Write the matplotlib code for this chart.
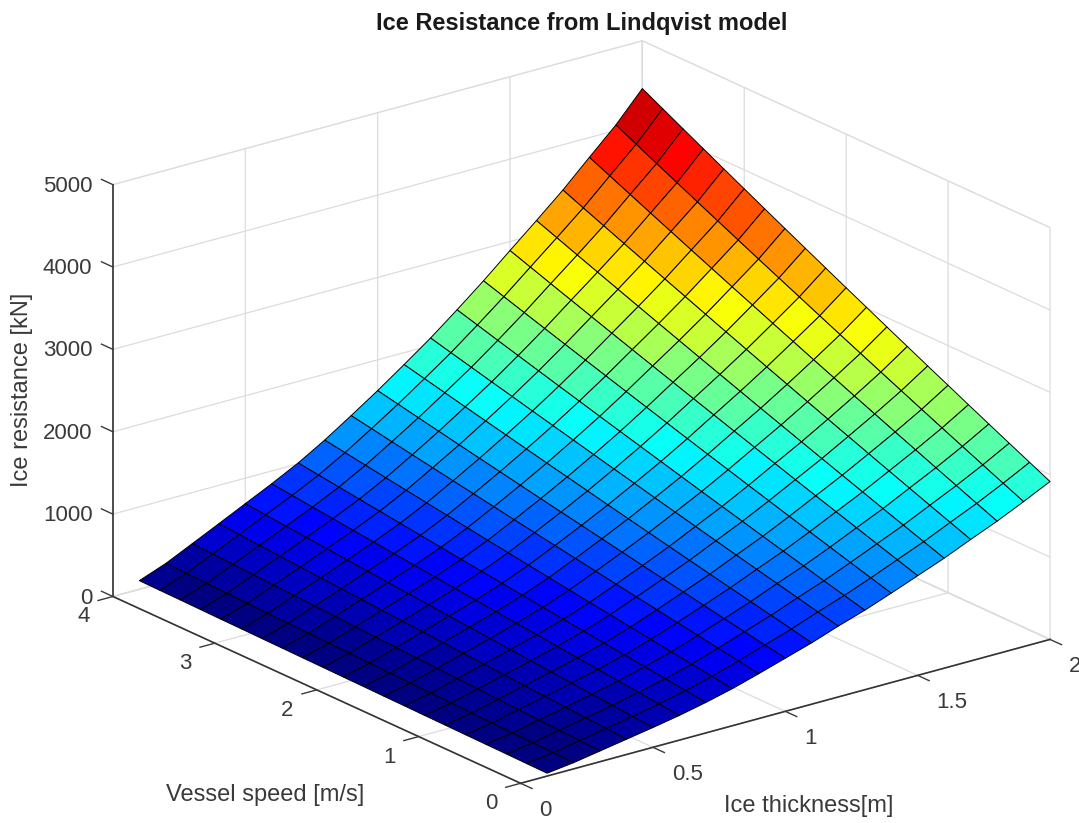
import numpy as np
import matplotlib
matplotlib.use('Agg')
import matplotlib.pyplot as plt
from matplotlib.colors import LinearSegmentedColormap, Normalize

thickness = [0.1, 0.2, 0.3, 0.4, 0.5, 0.6, 0.7, 0.8, 0.9, 1.0,
             1.1, 1.2, 1.3, 1.4, 1.5, 1.6, 1.7, 1.8, 1.9, 2.0]
speed = [0.0, 0.2, 0.4, 0.6, 0.8, 1.0, 1.2, 1.4, 1.6, 1.8, 2.0,
         2.2, 2.4, 2.6, 2.8, 3.0, 3.2, 3.4, 3.6, 3.8, 4.0]

# rows = thickness, cols = speed
resistance = [
    [35, 38, 42, 45, 48, 52, 55, 59, 62, 66, 69, 73, 76, 80, 83, 87, 90, 94, 98, 101, 105],
    [75, 82, 89, 97, 104, 111, 119, 126, 134, 141, 149, 157, 164, 172, 180, 187, 195, 203, 211, 219, 227],
    [130, 142, 154, 166, 178, 190, 202, 214, 227, 239, 252, 264, 277, 289, 302, 315, 328, 341, 354, 367, 380],
    [185, 202, 218, 235, 252, 269, 286, 303, 320, 337, 355, 372, 390, 408, 425, 443, 461, 479, 497, 516, 534],
    [240, 261, 283, 304, 326, 348, 370, 392, 414, 437, 459, 482, 504, 527, 550, 573, 596, 619, 643, 666, 690],
    [300, 326, 352, 378, 404, 431, 457, 484, 511, 538, 565, 593, 620, 648, 675, 703, 731, 760, 788, 816, 845],
    [370, 400, 431, 462, 493, 524, 555, 586, 618, 650, 682, 714, 746, 778, 811, 844, 877, 910, 943, 976, 1010],
    [450, 486, 521, 557, 594, 630, 667, 703, 740, 778, 815, 853, 890, 928, 967, 1005, 1044, 1082, 1121, 1161, 1200],
    [545, 586, 627, 669, 711, 753, 795, 837, 880, 923, 966, 1009, 1053, 1097, 1141, 1185, 1230, 1274, 1319, 1365, 1410],
    [645, 692, 738, 785, 833, 881, 928, 976, 1025, 1074, 1123, 1172, 1221, 1271, 1321, 1371, 1421, 1472, 1523, 1575, 1626],
    [745, 798, 851, 904, 958, 1011, 1066, 1120, 1175, 1230, 1285, 1341, 1397, 1453, 1510, 1567, 1624, 1681, 1739, 1797, 1855],
    [860, 918, 977, 1036, 1096, 1155, 1215, 1276, 1336, 1397, 1459, 1520, 1582, 1645, 1707, 1770, 1834, 1897, 1961, 2025, 2090],
    [965, 1031, 1096, 1163, 1229, 1296, 1364, 1431, 1499, 1568, 1637, 1706, 1775, 1845, 1916, 1986, 2057, 2129, 2200, 2273, 2345],
    [1085, 1157, 1230, 1303, 1377, 1451, 1526, 1600, 1676, 1751, 1827, 1904, 1981, 2058, 2136, 2214, 2292, 2371, 2450, 2530, 2610],
    [1210, 1290, 1370, 1451, 1532, 1613, 1695, 1778, 1861, 1944, 2028, 2112, 2197, 2282, 2367, 2453, 2540, 2627, 2714, 2802, 2890],
    [1335, 1422, 1509, 1597, 1686, 1775, 1864, 1954, 2045, 2135, 2227, 2319, 2411, 2504, 2597, 2691, 2785, 2880, 2975, 3071, 3167],
    [1475, 1569, 1663, 1758, 1853, 1949, 2046, 2142, 2240, 2338, 2436, 2535, 2635, 2735, 2836, 2937, 3038, 3140, 3243, 3346, 3450],
    [1610, 1712, 1815, 1918, 2022, 2126, 2231, 2336, 2443, 2549, 2657, 2764, 2873, 2981, 3091, 3201, 3312, 3423, 3535, 3647, 3760],
    [1760, 1869, 1979, 2090, 2201, 2313, 2426, 2539, 2653, 2767, 2882, 2998, 3114, 3230, 3348, 3466, 3584, 3704, 3823, 3944, 4065],
    [1917, 2036, 2155, 2275, 2396, 2518, 2640, 2763, 2886, 3011, 3135, 3261, 3387, 3514, 3641, 3770, 3898, 4028, 4158, 4289, 4420],
]

x_ticks = [0, 0.5, 1, 1.5, 2]
x_tick_labels = ['0', '0.5', '1', '1.5', '2']
y_ticks = [0, 1, 2, 3, 4]
z_ticks = [0, 1000, 2000, 3000, 4000, 5000]

TEXT = '#3a3a3a'
GRID = '#dcdcdc'

plt.rcParams['font.family'] = ['Liberation Sans', 'DejaVu Sans']

# MATLAB flavour of jet, 64 steps
jet64 = LinearSegmentedColormap.from_list('jet64', [
    (0.0, (0, 0, 0.5)), (0.125, (0, 0, 1)), (0.375, (0, 1, 1)),
    (0.625, (1, 1, 0)), (0.875, (1, 0, 0)), (1.0, (0.5, 0, 0))], N=64)

W, H, S = 1079, 823, 1100
fig = plt.figure(figsize=(W / 100, H / 100), dpi=100)
ax = fig.add_axes([16.6 / W, -153.9 / H, S / W, S / H], projection='3d')
ax.set_proj_type('ortho')
ax.view_init(elev=20.66, azim=-127.6)
ax.set_box_aspect((668, 668, 440), zoom=0.92)

hh, vv = np.meshgrid(thickness, speed, indexing='ij')
zz = np.array(resistance, dtype=float)
# each face takes the colour of one corner (low thickness, high speed), as in the original
face_colors = jet64(Normalize(zz.min(), zz.max())(zz[:, 1:]))
surf = ax.plot_surface(hh, vv, zz, rstride=1, cstride=1, facecolors=face_colors,
                       linewidth=0.7, antialiased=True, shade=False)
surf.set_edgecolor('black')

ax.set_xlim(0, 2, view_margin=0)
ax.set_ylim(0, 4, view_margin=0)
ax.set_zlim(0, 5000, view_margin=0)
ax.set_xticks(x_ticks)
ax.set_xticklabels(x_tick_labels)
ax.set_yticks(y_ticks)
ax.set_zticks(z_ticks)

for axis in (ax.xaxis, ax.yaxis, ax.zaxis):
    axis.pane.fill = False
    axis.pane.set_edgecolor(GRID)
    axis.line.set_color('#333333')
    axis.line.set_linewidth(1.2)
    axis._axinfo['grid'].update(color=GRID, linewidth=0.9)
    axis._axinfo['tick'].update(inward_factor=0.35, outward_factor=0.0)
    axis._axinfo['tick']['linewidth'] = {True: 1.0, False: 1.0}
    axis._axinfo['tick']['color'] = '#333333'

# z ticks point along the y direction, away from the box
z_info = {k: dict(v) for k, v in ax.zaxis._AXINFO.items()}
z_info['z']['tickdir'] = 1
ax.zaxis._AXINFO = z_info
ax.zaxis._axinfo['tick'].update(inward_factor=0.0, outward_factor=0.35)

ax.tick_params(labelsize=16, colors=TEXT)
ax.tick_params(axis='x', pad=11)
ax.tick_params(axis='y', pad=15)
ax.tick_params(axis='z', pad=1)
plt.setp(ax.get_xticklabels(), ha='left', va='center')
plt.setp(ax.get_yticklabels(), va='bottom')
plt.setp(ax.get_zticklabels(), ha='right', va='center_baseline')

fig.text(809 / W, 1 - 806 / H, 'Ice thickness[m]', fontsize=17, color=TEXT, ha='center', va='center')
fig.text(265 / W, 1 - 795 / H, 'Vessel speed [m/s]', fontsize=17, color=TEXT, ha='center', va='center')
fig.text(22 / W, 1 - 390 / H, 'Ice resistance [kN]', fontsize=17, color=TEXT, ha='center', va='center',
         rotation=90)
ax.set_title('Ice Resistance from Lindqvist model', fontsize=17, fontweight='bold',
             color='#1a1a1a', x=0.5136, y=0.9355, pad=0)

fig.savefig('out.png', dpi=100, facecolor='white')
